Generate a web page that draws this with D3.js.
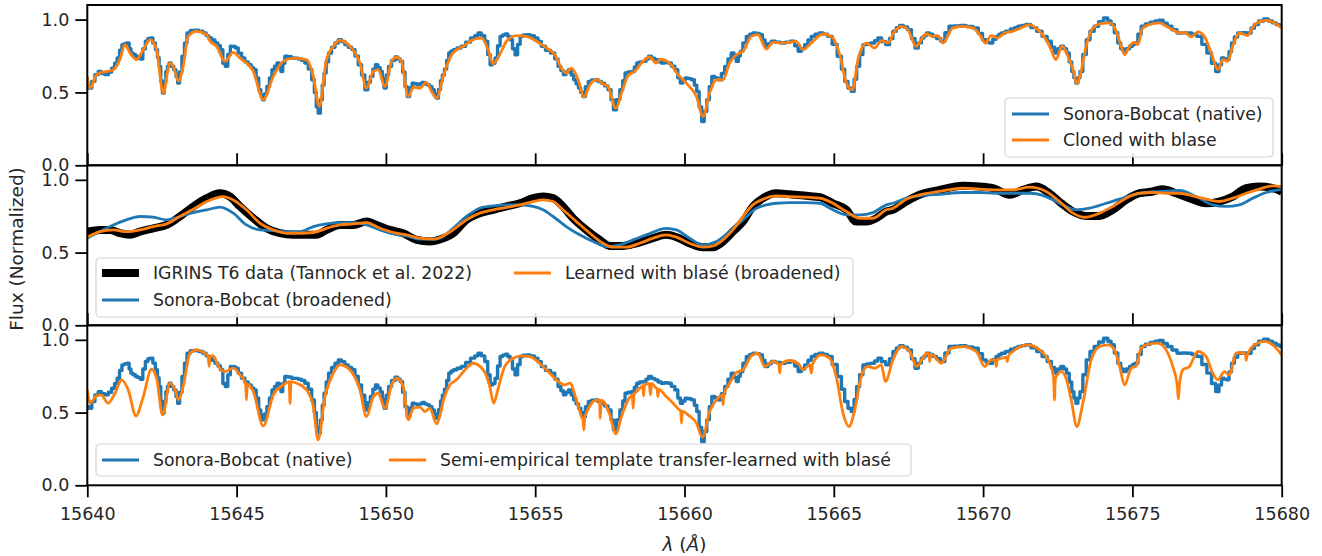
<!DOCTYPE html>
<html><head><meta charset="utf-8">
<script src="https://cdn.jsdelivr.net/npm/d3@7"></script>
<style>
body{margin:0;background:#fff}
text{font-family:"DejaVu Sans",sans-serif;fill:#262626}
</style>
</head><body>
<svg id="chart" width="1322" height="556"></svg>
<script>
// ---------------- DATA (wavelength in Å, normalized flux) ----------------
const xTicks = [15640,15645,15650,15655,15660,15665,15670,15675,15680];
const yTicks = [0.0,0.5,1.0];

// Sonora-Bobcat native model (step spectrum), panels 1 and 3
const sonoraNative = [[15640.00,0.541],[15640.10,0.530],[15640.20,0.576],[15640.31,0.622],[15640.42,0.644],[15640.53,0.630],[15640.65,0.622],[15640.76,0.640],[15640.87,0.667],[15640.96,0.700],[15641.04,0.736],[15641.12,0.790],[15641.20,0.828],[15641.28,0.835],[15641.37,0.839],[15641.43,0.800],[15641.49,0.771],[15641.57,0.760],[15641.65,0.748],[15641.74,0.740],[15641.82,0.729],[15641.90,0.800],[15641.99,0.851],[15642.07,0.870],[15642.15,0.874],[15642.24,0.840],[15642.32,0.794],[15642.38,0.740],[15642.43,0.679],[15642.49,0.580],[15642.54,0.495],[15642.60,0.570],[15642.66,0.644],[15642.71,0.680],[15642.77,0.702],[15642.85,0.680],[15642.94,0.656],[15643.00,0.610],[15643.05,0.564],[15643.13,0.640],[15643.21,0.748],[15643.30,0.840],[15643.38,0.908],[15643.52,0.925],[15643.66,0.927],[15643.80,0.920],[15643.94,0.908],[15644.02,0.890],[15644.11,0.874],[15644.22,0.860],[15644.33,0.839],[15644.42,0.820],[15644.50,0.794],[15644.58,0.700],[15644.66,0.679],[15644.75,0.760],[15644.83,0.817],[15644.92,0.815],[15645.00,0.805],[15645.11,0.770],[15645.22,0.736],[15645.33,0.710],[15645.45,0.690],[15645.53,0.670],[15645.61,0.656],[15645.70,0.600],[15645.78,0.518],[15645.84,0.480],[15645.89,0.450],[15645.97,0.490],[15646.06,0.541],[15646.14,0.600],[15646.23,0.656],[15646.31,0.680],[15646.40,0.702],[15646.46,0.670],[15646.51,0.644],[15646.58,0.700],[15646.65,0.748],[15646.78,0.745],[15646.90,0.736],[15647.01,0.735],[15647.12,0.729],[15647.23,0.720],[15647.34,0.702],[15647.46,0.660],[15647.57,0.587],[15647.64,0.500],[15647.70,0.400],[15647.77,0.358],[15647.84,0.450],[15647.90,0.550],[15647.96,0.633],[15648.04,0.710],[15648.12,0.771],[15648.24,0.810],[15648.35,0.839],[15648.46,0.862],[15648.57,0.850],[15648.68,0.828],[15648.80,0.810],[15648.91,0.794],[15649.02,0.750],[15649.13,0.690],[15649.24,0.620],[15649.35,0.518],[15649.44,0.570],[15649.52,0.610],[15649.61,0.660],[15649.69,0.690],[15649.77,0.670],[15649.85,0.644],[15649.91,0.590],[15649.97,0.530],[15650.05,0.620],[15650.13,0.679],[15650.25,0.720],[15650.36,0.743],[15650.44,0.730],[15650.52,0.713],[15650.60,0.640],[15650.68,0.540],[15650.75,0.472],[15650.84,0.530],[15650.92,0.564],[15651.00,0.560],[15651.09,0.553],[15651.17,0.560],[15651.25,0.569],[15651.33,0.560],[15651.42,0.553],[15651.50,0.540],[15651.59,0.518],[15651.65,0.490],[15651.72,0.461],[15651.80,0.520],[15651.86,0.580],[15651.92,0.620],[15652.00,0.660],[15652.07,0.720],[15652.14,0.771],[15652.22,0.785],[15652.31,0.794],[15652.45,0.805],[15652.59,0.817],[15652.75,0.845],[15652.92,0.874],[15653.03,0.890],[15653.14,0.908],[15653.25,0.890],[15653.37,0.851],[15653.45,0.760],[15653.53,0.690],[15653.61,0.700],[15653.70,0.736],[15653.78,0.820],[15653.87,0.885],[15653.95,0.895],[15654.04,0.901],[15654.12,0.885],[15654.20,0.862],[15654.28,0.800],[15654.37,0.759],[15654.45,0.830],[15654.54,0.885],[15654.65,0.895],[15654.76,0.897],[15654.90,0.890],[15655.04,0.874],[15655.15,0.850],[15655.26,0.817],[15655.43,0.790],[15655.60,0.771],[15655.71,0.730],[15655.82,0.679],[15655.90,0.650],[15655.99,0.622],[15656.07,0.640],[15656.16,0.656],[15656.25,0.620],[15656.33,0.587],[15656.41,0.560],[15656.49,0.530],[15656.56,0.500],[15656.63,0.472],[15656.73,0.540],[15656.83,0.576],[15656.94,0.585],[15657.05,0.587],[15657.16,0.575],[15657.27,0.564],[15657.38,0.545],[15657.50,0.518],[15657.58,0.450],[15657.66,0.381],[15657.78,0.450],[15657.89,0.518],[15657.97,0.580],[15658.05,0.633],[15658.16,0.640],[15658.28,0.644],[15658.36,0.675],[15658.44,0.702],[15658.55,0.710],[15658.67,0.713],[15658.75,0.730],[15658.84,0.748],[15658.95,0.735],[15659.06,0.725],[15659.17,0.710],[15659.28,0.702],[15659.39,0.705],[15659.50,0.702],[15659.62,0.680],[15659.73,0.656],[15659.82,0.600],[15659.90,0.564],[15659.98,0.580],[15660.06,0.599],[15660.17,0.595],[15660.29,0.587],[15660.37,0.550],[15660.45,0.507],[15660.53,0.400],[15660.62,0.300],[15660.70,0.370],[15660.79,0.450],[15660.87,0.540],[15660.96,0.610],[15661.07,0.600],[15661.18,0.587],[15661.29,0.630],[15661.40,0.679],[15661.51,0.730],[15661.62,0.771],[15661.70,0.740],[15661.77,0.713],[15661.84,0.750],[15661.90,0.782],[15662.01,0.840],[15662.13,0.885],[15662.24,0.900],[15662.35,0.908],[15662.46,0.905],[15662.57,0.897],[15662.65,0.860],[15662.74,0.817],[15662.85,0.835],[15662.96,0.851],[15663.13,0.845],[15663.30,0.839],[15663.46,0.845],[15663.63,0.851],[15663.75,0.820],[15663.86,0.782],[15663.97,0.800],[15664.08,0.828],[15664.19,0.860],[15664.30,0.885],[15664.44,0.900],[15664.58,0.908],[15664.72,0.900],[15664.86,0.885],[15665.03,0.830],[15665.20,0.748],[15665.31,0.660],[15665.42,0.576],[15665.53,0.530],[15665.64,0.507],[15665.72,0.590],[15665.81,0.679],[15665.92,0.760],[15666.03,0.828],[15666.17,0.835],[15666.31,0.839],[15666.42,0.855],[15666.53,0.874],[15666.67,0.850],[15666.81,0.828],[15666.92,0.870],[15667.04,0.920],[15667.15,0.945],[15667.26,0.959],[15667.40,0.950],[15667.54,0.931],[15667.66,0.870],[15667.78,0.805],[15667.88,0.840],[15667.98,0.874],[15668.06,0.890],[15668.15,0.908],[15668.26,0.900],[15668.37,0.885],[15668.51,0.870],[15668.65,0.851],[15668.79,0.910],[15668.93,0.954],[15669.12,0.957],[15669.32,0.959],[15669.55,0.952],[15669.77,0.943],[15669.91,0.905],[15670.05,0.862],[15670.16,0.845],[15670.27,0.839],[15670.38,0.865],[15670.49,0.885],[15670.57,0.900],[15670.66,0.908],[15670.83,0.920],[15671.00,0.936],[15671.11,0.945],[15671.22,0.954],[15671.36,0.960],[15671.50,0.966],[15671.70,0.945],[15671.89,0.920],[15672.06,0.885],[15672.23,0.851],[15672.34,0.810],[15672.45,0.771],[15672.55,0.800],[15672.65,0.817],[15672.75,0.800],[15672.84,0.771],[15672.93,0.710],[15673.01,0.644],[15673.07,0.600],[15673.14,0.564],[15673.21,0.600],[15673.28,0.644],[15673.40,0.760],[15673.51,0.862],[15673.65,0.920],[15673.79,0.954],[15673.95,0.985],[15674.12,1.011],[15674.23,0.990],[15674.34,0.966],[15674.45,0.910],[15674.57,0.839],[15674.65,0.800],[15674.74,0.782],[15674.85,0.800],[15674.96,0.817],[15675.05,0.830],[15675.13,0.839],[15675.24,0.900],[15675.35,0.954],[15675.51,0.970],[15675.68,0.982],[15675.82,0.990],[15675.96,0.995],[15676.10,0.975],[15676.24,0.954],[15676.41,0.930],[15676.58,0.908],[15676.74,0.910],[15676.91,0.908],[15677.07,0.900],[15677.24,0.885],[15677.41,0.830],[15677.58,0.771],[15677.72,0.700],[15677.86,0.644],[15677.94,0.690],[15678.03,0.736],[15678.11,0.730],[15678.19,0.725],[15678.28,0.780],[15678.36,0.839],[15678.47,0.880],[15678.58,0.908],[15678.75,0.910],[15678.92,0.908],[15679.03,0.940],[15679.14,0.966],[15679.31,0.990],[15679.48,1.005],[15679.62,0.990],[15679.76,0.977],[15679.88,0.965],[15680.00,0.954]];

// Cloned with blase, panel 1
const clonedBlase = [[15640.00,0.610],[15640.09,0.530],[15640.31,0.622],[15640.42,0.633],[15640.65,0.644],[15640.87,0.656],[15641.09,0.725],[15641.26,0.828],[15641.43,0.771],[15641.65,0.725],[15641.875,0.794],[15642.10,0.862],[15642.32,0.794],[15642.54,0.495],[15642.77,0.702],[15642.88,0.679],[15643.05,0.576],[15643.21,0.679],[15643.38,0.885],[15643.66,0.920],[15644.00,0.897],[15644.11,0.851],[15644.33,0.817],[15644.61,0.713],[15644.89,0.775],[15645.11,0.736],[15645.56,0.644],[15645.89,0.450],[15646.23,0.610],[15646.56,0.713],[15646.90,0.736],[15647.34,0.725],[15647.57,0.610],[15647.77,0.404],[15648.01,0.725],[15648.24,0.817],[15648.46,0.858],[15648.79,0.817],[15649.13,0.702],[15649.35,0.530],[15649.58,0.644],[15649.74,0.656],[15649.97,0.541],[15650.19,0.713],[15650.36,0.743],[15650.52,0.713],[15650.75,0.472],[15650.92,0.537],[15651.14,0.530],[15651.36,0.569],[15651.53,0.507],[15651.70,0.461],[15651.92,0.610],[15652.03,0.679],[15652.25,0.771],[15652.59,0.817],[15652.92,0.862],[15653.20,0.874],[15653.42,0.794],[15653.59,0.697],[15653.81,0.759],[15654.04,0.851],[15654.37,0.890],[15654.71,0.885],[15655.04,0.851],[15655.38,0.805],[15655.66,0.759],[15655.88,0.667],[15656.05,0.633],[15656.21,0.667],[15656.44,0.587],[15656.63,0.468],[15656.83,0.553],[15657.05,0.587],[15657.27,0.560],[15657.44,0.541],[15657.70,0.392],[15657.89,0.495],[15658.11,0.615],[15658.33,0.644],[15658.56,0.702],[15658.84,0.743],[15659.04,0.702],[15659.19,0.729],[15659.50,0.702],[15659.78,0.622],[15660.06,0.564],[15660.40,0.472],[15660.62,0.335],[15660.84,0.495],[15661.07,0.587],[15661.29,0.587],[15661.51,0.702],[15661.74,0.759],[15661.96,0.782],[15662.24,0.885],[15662.46,0.897],[15662.74,0.798],[15662.96,0.844],[15663.30,0.839],[15663.74,0.851],[15663.97,0.794],[15664.19,0.828],[15664.64,0.901],[15664.97,0.874],[15665.20,0.759],[15665.44,0.553],[15665.62,0.518],[15665.81,0.725],[15666.09,0.839],[15666.37,0.805],[15666.60,0.855],[15666.81,0.840],[15667.04,0.920],[15667.26,0.954],[15667.48,0.931],[15667.76,0.817],[15667.93,0.862],[15668.10,0.901],[15668.32,0.885],[15668.49,0.890],[15668.65,0.839],[15668.99,0.943],[15669.32,0.954],[15669.66,0.943],[15669.88,0.897],[15670.08,0.839],[15670.27,0.890],[15670.49,0.874],[15670.72,0.908],[15671.00,0.920],[15671.28,0.943],[15671.56,0.966],[15671.83,0.931],[15672.11,0.862],[15672.28,0.794],[15672.43,0.725],[15672.65,0.817],[15672.84,0.748],[15673.01,0.656],[15673.14,0.560],[15673.28,0.644],[15673.45,0.817],[15673.68,0.943],[15673.95,0.972],[15674.23,0.977],[15674.46,0.920],[15674.59,0.839],[15674.74,0.759],[15674.90,0.817],[15675.07,0.844],[15675.18,0.828],[15675.35,0.943],[15675.57,0.966],[15675.91,0.977],[15676.13,0.954],[15676.35,0.931],[15676.58,0.908],[15676.74,0.913],[15676.97,0.881],[15677.19,0.915],[15677.41,0.885],[15677.64,0.771],[15677.86,0.656],[15678.03,0.725],[15678.19,0.713],[15678.36,0.817],[15678.58,0.908],[15678.86,0.890],[15679.09,0.966],[15679.48,0.995],[15679.76,0.977],[15680.00,0.943]];

// IGRINS T6 data, panel 2
const igrinsData = [[15640.00,0.644],[15640.42,0.656],[15640.76,0.656],[15641.09,0.633],[15641.43,0.622],[15641.76,0.644],[15642.21,0.667],[15642.66,0.690],[15643.10,0.748],[15643.55,0.817],[15644.00,0.874],[15644.44,0.908],[15644.78,0.885],[15645.11,0.817],[15645.56,0.736],[15646.00,0.667],[15646.45,0.633],[15646.90,0.622],[15647.34,0.622],[15647.68,0.622],[15648.01,0.656],[15648.46,0.690],[15648.91,0.690],[15649.35,0.713],[15649.69,0.690],[15650.13,0.656],[15650.58,0.633],[15651.03,0.587],[15651.47,0.576],[15651.81,0.590],[15652.25,0.633],[15652.70,0.725],[15653.14,0.771],[15653.59,0.794],[15654.04,0.817],[15654.48,0.839],[15654.93,0.874],[15655.26,0.885],[15655.60,0.874],[15655.93,0.817],[15656.27,0.736],[15656.71,0.656],[15657.16,0.587],[15657.50,0.546],[15657.94,0.546],[15658.39,0.564],[15658.84,0.592],[15659.39,0.622],[15659.73,0.606],[15660.17,0.564],[15660.62,0.537],[15660.96,0.537],[15661.29,0.576],[15661.62,0.644],[15661.96,0.713],[15662.29,0.817],[15662.63,0.874],[15663.07,0.908],[15663.52,0.901],[15664.08,0.890],[15664.53,0.881],[15664.97,0.839],[15665.42,0.794],[15665.75,0.713],[15666.09,0.713],[15666.42,0.736],[15666.76,0.782],[15666.98,0.794],[15667.43,0.851],[15667.87,0.897],[15668.54,0.931],[15669.32,0.959],[15669.88,0.954],[15670.33,0.943],[15670.89,0.897],[15671.33,0.931],[15671.78,0.954],[15672.22,0.908],[15672.62,0.839],[15673.01,0.782],[15673.45,0.752],[15673.90,0.752],[15674.34,0.794],[15674.79,0.862],[15675.24,0.908],[15675.68,0.920],[15676.02,0.936],[15676.46,0.908],[15676.91,0.874],[15677.47,0.839],[15677.91,0.851],[15678.36,0.885],[15678.81,0.943],[15679.25,0.954],[15679.70,0.943],[15680.00,0.920]];

// Sonora-Bobcat broadened, panel 2
const sonoraBroad = [[15640.00,0.599],[15640.42,0.644],[15640.87,0.690],[15641.31,0.725],[15641.76,0.748],[15642.21,0.743],[15642.66,0.725],[15643.10,0.748],[15643.55,0.775],[15644.00,0.794],[15644.44,0.812],[15644.89,0.771],[15645.33,0.690],[15645.78,0.656],[15646.23,0.651],[15646.67,0.644],[15647.12,0.644],[15647.57,0.679],[15648.01,0.697],[15648.46,0.706],[15648.91,0.706],[15649.35,0.690],[15649.80,0.656],[15650.25,0.628],[15650.69,0.615],[15651.14,0.592],[15651.59,0.592],[15651.81,0.599],[15652.25,0.667],[15652.70,0.748],[15653.14,0.805],[15653.59,0.821],[15654.04,0.828],[15654.48,0.828],[15654.93,0.817],[15655.26,0.794],[15655.60,0.748],[15656.04,0.679],[15656.49,0.622],[15656.94,0.576],[15657.38,0.541],[15657.83,0.553],[15658.28,0.587],[15658.72,0.622],[15659.39,0.667],[15659.73,0.656],[15660.17,0.599],[15660.62,0.553],[15661.07,0.576],[15661.51,0.644],[15661.96,0.725],[15662.41,0.805],[15662.74,0.828],[15663.07,0.839],[15663.52,0.844],[15664.08,0.844],[15664.53,0.839],[15664.97,0.794],[15665.42,0.759],[15665.87,0.759],[15666.31,0.775],[15666.76,0.828],[15666.98,0.839],[15667.43,0.874],[15667.87,0.890],[15668.54,0.901],[15669.32,0.913],[15669.88,0.913],[15670.44,0.908],[15671.00,0.908],[15671.56,0.908],[15672.11,0.885],[15672.56,0.839],[15673.12,0.794],[15673.56,0.805],[15674.12,0.839],[15674.57,0.867],[15675.01,0.897],[15675.46,0.913],[15675.96,0.920],[15676.58,0.927],[15677.13,0.885],[15677.69,0.828],[15678.14,0.817],[15678.58,0.828],[15679.03,0.874],[15679.48,0.913],[15680.00,0.935]];

// Learned with blase (broadened), panel 2
const learnedBroad = [[15640.00,0.606],[15640.42,0.644],[15640.87,0.656],[15641.31,0.644],[15641.76,0.656],[15642.21,0.679],[15642.66,0.697],[15643.10,0.748],[15643.55,0.798],[15644.00,0.851],[15644.55,0.885],[15644.89,0.862],[15645.33,0.794],[15645.78,0.702],[15646.23,0.656],[15646.67,0.633],[15647.12,0.633],[15647.57,0.638],[15648.01,0.667],[15648.46,0.690],[15648.91,0.697],[15649.35,0.706],[15649.80,0.667],[15650.25,0.638],[15650.69,0.622],[15651.14,0.599],[15651.59,0.592],[15651.92,0.615],[15652.25,0.656],[15652.70,0.725],[15653.14,0.771],[15653.59,0.794],[15654.04,0.810],[15654.48,0.828],[15654.93,0.851],[15655.26,0.862],[15655.60,0.851],[15655.93,0.794],[15656.38,0.713],[15656.83,0.633],[15657.27,0.564],[15657.61,0.537],[15658.05,0.537],[15658.50,0.564],[15658.95,0.599],[15659.39,0.622],[15659.73,0.606],[15660.17,0.564],[15660.62,0.537],[15660.96,0.546],[15661.29,0.587],[15661.62,0.656],[15661.96,0.748],[15662.29,0.828],[15662.63,0.867],[15663.07,0.890],[15663.52,0.885],[15664.08,0.881],[15664.53,0.874],[15664.97,0.839],[15665.42,0.782],[15665.87,0.736],[15666.31,0.736],[15666.76,0.794],[15666.98,0.805],[15667.43,0.867],[15667.87,0.897],[15668.54,0.920],[15669.32,0.943],[15669.88,0.936],[15670.44,0.931],[15671.00,0.931],[15671.56,0.950],[15672.11,0.920],[15672.56,0.851],[15673.01,0.771],[15673.40,0.743],[15673.90,0.771],[15674.34,0.817],[15674.79,0.874],[15675.24,0.908],[15675.68,0.913],[15676.13,0.908],[15676.58,0.908],[15677.02,0.890],[15677.47,0.867],[15677.91,0.851],[15678.36,0.874],[15678.81,0.908],[15679.25,0.936],[15679.70,0.959],[15680.00,0.954]];

// Semi-empirical template transfer-learned with blase, panel 3
const semiEmpirical = [[15640.00,0.656],[15640.09,0.564],[15640.31,0.615],[15640.46,0.622],[15640.70,0.564],[15640.93,0.633],[15641.15,0.725],[15641.37,0.656],[15641.63,0.477],[15641.875,0.610],[15642.15,0.798],[15642.32,0.736],[15642.52,0.484],[15642.77,0.702],[15642.94,0.656],[15643.05,0.587],[15643.21,0.679],[15643.44,0.908],[15643.66,0.931],[15643.94,0.908],[15644.05,0.885],[15644.08,0.817],[15644.11,0.890],[15644.22,0.890],[15644.39,0.817],[15644.61,0.782],[15644.89,0.805],[15645.11,0.759],[15645.30,0.700],[15645.33,0.587],[15645.36,0.695],[15645.56,0.644],[15645.89,0.408],[15646.23,0.622],[15646.56,0.690],[15646.76,0.713],[15646.79,0.564],[15646.82,0.713],[15647.01,0.702],[15647.34,0.656],[15647.57,0.541],[15647.73,0.312],[15647.96,0.610],[15648.24,0.771],[15648.46,0.828],[15648.79,0.794],[15649.13,0.656],[15649.35,0.472],[15649.58,0.610],[15649.74,0.633],[15649.97,0.530],[15650.19,0.690],[15650.36,0.736],[15650.58,0.679],[15650.75,0.450],[15650.92,0.530],[15651.14,0.537],[15651.31,0.507],[15651.47,0.530],[15651.70,0.422],[15651.81,0.480],[15651.95,0.600],[15652.14,0.690],[15652.36,0.725],[15652.70,0.805],[15652.92,0.839],[15653.26,0.794],[15653.48,0.679],[15653.61,0.564],[15653.76,0.667],[15653.98,0.817],[15654.26,0.874],[15654.54,0.890],[15654.82,0.885],[15655.15,0.839],[15655.49,0.771],[15655.77,0.713],[15655.99,0.690],[15656.16,0.702],[15656.38,0.587],[15656.55,0.472],[15656.60,0.450],[15656.63,0.381],[15656.66,0.470],[15656.71,0.495],[15656.94,0.576],[15657.11,0.587],[15657.15,0.587],[15657.18,0.461],[15657.21,0.585],[15657.33,0.564],[15657.50,0.484],[15657.70,0.353],[15657.89,0.472],[15658.11,0.587],[15658.25,0.620],[15658.28,0.530],[15658.31,0.625],[15658.39,0.644],[15658.56,0.679],[15658.60,0.685],[15658.63,0.615],[15658.66,0.690],[15658.82,0.700],[15658.86,0.622],[15658.90,0.700],[15659.06,0.667],[15659.08,0.665],[15659.11,0.610],[15659.14,0.660],[15659.39,0.610],[15659.62,0.564],[15659.84,0.518],[15659.87,0.515],[15659.90,0.427],[15659.93,0.510],[15660.12,0.484],[15660.40,0.427],[15660.60,0.330],[15660.84,0.507],[15661.07,0.587],[15661.26,0.620],[15661.29,0.553],[15661.32,0.625],[15661.51,0.702],[15661.74,0.775],[15661.96,0.794],[15662.24,0.890],[15662.46,0.908],[15662.69,0.817],[15662.96,0.851],[15663.16,0.830],[15663.19,0.771],[15663.22,0.830],[15663.52,0.858],[15663.80,0.839],[15663.97,0.794],[15664.19,0.828],[15664.25,0.771],[15664.29,0.835],[15664.58,0.897],[15664.86,0.874],[15665.08,0.748],[15665.31,0.495],[15665.51,0.404],[15665.70,0.518],[15665.92,0.748],[15666.14,0.817],[15666.37,0.805],[15666.59,0.828],[15666.73,0.713],[15666.98,0.862],[15667.26,0.954],[15667.54,0.920],[15667.78,0.817],[15667.98,0.874],[15668.12,0.908],[15668.18,0.905],[15668.21,0.851],[15668.24,0.900],[15668.37,0.885],[15668.60,0.839],[15668.93,0.943],[15669.32,0.954],[15669.77,0.920],[15670.05,0.817],[15670.27,0.862],[15670.41,0.860],[15670.44,0.817],[15670.47,0.860],[15670.61,0.874],[15670.78,0.880],[15670.81,0.851],[15670.84,0.885],[15671.00,0.920],[15671.50,0.966],[15671.89,0.931],[15672.23,0.839],[15672.36,0.740],[15672.39,0.587],[15672.42,0.735],[15672.62,0.782],[15672.78,0.736],[15672.95,0.587],[15673.14,0.404],[15673.34,0.564],[15673.62,0.862],[15673.90,0.954],[15674.18,0.966],[15674.40,0.931],[15674.57,0.817],[15674.74,0.690],[15674.96,0.805],[15675.13,0.821],[15675.29,0.943],[15675.57,0.972],[15675.85,0.977],[15676.13,0.931],[15676.35,0.817],[15676.50,0.690],[15676.54,0.592],[15676.58,0.700],[15676.69,0.794],[15676.91,0.817],[15677.19,0.920],[15677.47,0.885],[15677.69,0.771],[15677.86,0.725],[15678.08,0.782],[15678.25,0.759],[15678.47,0.908],[15678.70,0.913],[15678.78,0.900],[15678.81,0.860],[15678.84,0.890],[15679.09,0.966],[15679.42,0.989],[15679.70,0.966],[15680.00,0.897]];

// ---------------- DRAWING ----------------
const BLUE = "#1f77b4", ORANGE = "#ff7f0e";
const TICK_FS = "17.5px", LEG_FS = "17.3px", LABEL_FS = "18.5px";
const svg = d3.select("#chart");
const x = d3.scaleLinear().domain([15640,15680]).range([87.3,1281.7]);
const panelBox = [{top:5,bottom:165.3},{top:165.3,bottom:325.3},{top:325.3,bottom:485.3}];
const ys = panelBox.map(p => d3.scaleLinear().domain([0,1.1]).range([p.bottom,p.top]));

const defs = svg.append("defs");
panelBox.forEach((p,i)=>{
  defs.append("clipPath").attr("id","clip"+i).append("rect")
    .attr("x",x.range()[0]).attr("y",p.top).attr("width",x.range()[1]-x.range()[0]).attr("height",p.bottom-p.top);
});

function drawLine(i, data, color, width, curve){
  const y = ys[i];
  const gen = d3.line().x(d=>x(d[0])).y(d=>y(d[1])).curve(curve);
  svg.append("path").attr("clip-path",`url(#clip${i})`).datum(data)
    .attr("d",gen).attr("fill","none").attr("stroke",color)
    .attr("stroke-width",width).attr("stroke-linejoin","round").attr("stroke-linecap","butt");
}

// panel 1
drawLine(0, sonoraNative, BLUE, 3.4, d3.curveStep);
drawLine(0, clonedBlase, ORANGE, 2.8, d3.curveMonotoneX);
// panel 2
drawLine(1, igrinsData, "#000", 8, d3.curveMonotoneX);
drawLine(1, sonoraBroad, BLUE, 2.8, d3.curveMonotoneX);
drawLine(1, learnedBroad, ORANGE, 2.8, d3.curveMonotoneX);
// panel 3
drawLine(2, sonoraNative, BLUE, 3.4, d3.curveStep);
drawLine(2, semiEmpirical, ORANGE, 2.8, d3.curveMonotoneX);

// axes
panelBox.forEach((p,i)=>{
  const last = i===2;
  const ax = svg.append("g").attr("transform",`translate(0,${p.bottom})`)
    .call(d3.axisBottom(x).tickValues(xTicks).tickSize(last?12:-12).tickPadding(10)
      .tickFormat(last? d3.format("d") : ""));
  ax.select(".domain").remove();
  ax.selectAll("line").attr("stroke","#000").attr("stroke-width",1.8);
  ax.selectAll("text").style("font-size",TICK_FS).style("fill","#262626");
  const ay = svg.append("g").attr("transform",`translate(${x.range()[0]},0)`)
    .call(d3.axisLeft(ys[i]).tickValues(yTicks).tickSize(12).tickPadding(6).tickFormat(d3.format(".1f")));
  ay.select(".domain").remove();
  ay.selectAll("line").attr("stroke","#000").attr("stroke-width",1.8);
  ay.selectAll("text").style("font-size",TICK_FS).style("fill","#262626");
  svg.append("rect").attr("x",x.range()[0]).attr("y",p.top)
    .attr("width",x.range()[1]-x.range()[0]).attr("height",p.bottom-p.top)
    .attr("fill","none").attr("stroke","#000").attr("stroke-width",2);
});

// legends
function legend(box, items){
  svg.append("rect").attr("x",box.x).attr("y",box.y).attr("width",box.w).attr("height",box.h)
    .attr("rx",4).attr("fill","#fff").attr("fill-opacity",0.85).attr("stroke","#d4d4d4").attr("stroke-width",1.2);
  items.forEach(it=>{
    svg.append("line").attr("x1",it.hx).attr("x2",it.hx+37).attr("y1",it.y).attr("y2",it.y)
      .attr("stroke",it.color).attr("stroke-width",it.w);
    svg.append("text").attr("x",it.hx+51).attr("y",it.y+6).style("font-size",LEG_FS).text(it.label);
  });
}
legend({x:1005,y:98,w:268,h:59},[
  {hx:1012,y:114,color:BLUE,w:3,label:"Sonora-Bobcat (native)"},
  {hx:1012,y:140,color:ORANGE,w:3,label:"Cloned with blase"}]);
legend({x:96,y:258,w:757,h:59},[
  {hx:102,y:273,color:"#000",w:8,label:"IGRINS T6 data (Tannock et al. 2022)"},
  {hx:102,y:300,color:BLUE,w:3,label:"Sonora-Bobcat (broadened)"},
  {hx:514,y:273,color:ORANGE,w:3,label:"Learned with blasé (broadened)"}]);
legend({x:96,y:444,w:815,h:32},[
  {hx:102,y:460,color:BLUE,w:3,label:"Sonora-Bobcat (native)"},
  {hx:389,y:460,color:ORANGE,w:3,label:"Semi-empirical template transfer-learned with blasé"}]);

// axis titles
svg.append("text").attr("transform","translate(23,249) rotate(-90)").attr("text-anchor","middle")
  .style("font-size",LABEL_FS).text("Flux (Normalized)");
const xl = svg.append("text").attr("x",(x.range()[0]+x.range()[1])/2).attr("y",551).attr("text-anchor","middle")
  .style("font-size",LABEL_FS);
xl.append("tspan").style("font-style","italic").text("λ");
xl.append("tspan").text(" (");
xl.append("tspan").style("font-style","italic").text("Å");
xl.append("tspan").text(")");
</script>
</body></html>
